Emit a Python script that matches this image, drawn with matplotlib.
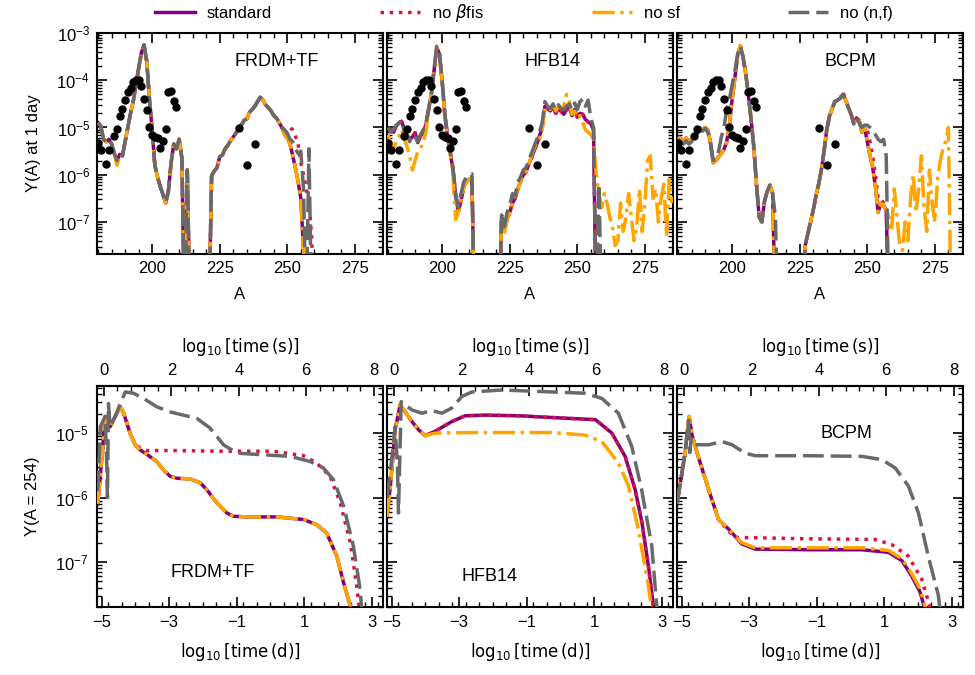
import numpy as np
import matplotlib
matplotlib.use("Agg")
import matplotlib.pyplot as plt
from matplotlib.ticker import MultipleLocator, LogLocator, NullFormatter, FixedLocator

plt.rcParams['font.family'] = ['Liberation Sans', 'DejaVu Sans']
plt.rcParams['font.size'] = 12
plt.rcParams['axes.linewidth'] = 1.5

# ---------------- data: top row, log10 Y(A) at 1 day, A starts at 180 ----------------
frdm_std = [-4.90, -4.97, -5.25, -5.30, -5.25, -5.35, -5.55, -5.70, -5.57, -5.60,
            -5.30, -5.00, -4.70, -4.45, -4.10, -3.75, -3.42, -3.25, -3.60, -4.40,
            -5.05, -5.80, -6.05, -6.25, -6.42, -6.60, -6.35, -5.75, -5.35, -5.45,
            -5.25, -5.65, -9.0, -5.90, -9.0, -9.0, -9.0, -9.0, -9.0, -9.0,
            -9.0, -9.0, -6.02, -5.92, -5.85, -5.62, -5.58, -5.45, -5.38, -5.28,
            -5.20, -5.12, -5.02, -4.95, -4.85, -4.82, -4.68, -4.62, -4.55, -4.45,
            -4.36, -4.42, -4.52, -4.58, -4.65, -4.75, -4.80, -4.90, -5.00, -5.15,
            -5.22, -5.35, -5.60, -5.85, -6.15, -6.50, -7.60, -9.0]
frdm_nbf = [-4.90, -4.97, -5.25, -5.30, -5.25, -5.35, -5.55, -5.70, -5.57, -5.60,
            -5.30, -5.00, -4.70, -4.45, -4.10, -3.75, -3.42, -3.25, -3.60, -4.40,
            -5.05, -5.80, -6.05, -6.25, -6.42, -6.60, -6.35, -5.75, -5.35, -5.45,
            -5.25, -5.65, -9.0, -5.90, -9.0, -9.0, -9.0, -9.0, -9.0, -9.0,
            -9.0, -9.0, -6.02, -5.92, -5.85, -5.62, -5.58, -5.45, -5.38, -5.28,
            -5.20, -5.12, -5.02, -4.95, -4.85, -4.82, -4.68, -4.62, -4.55, -4.45,
            -4.36, -4.42, -4.52, -4.58, -4.65, -4.75, -4.80, -4.90, -5.00, -5.05,
            -5.02, -5.00, -5.05, -5.18, -5.35, -5.75, -6.00, -6.30, -6.60, -7.30,
            -9.0]
frdm_nsf = [-4.90, -4.97, -5.25, -5.30, -5.25, -5.35, -5.55, -5.80, -5.57, -5.60,
            -5.30, -5.00, -4.70, -4.45, -4.10, -3.75, -3.42, -3.25, -3.60, -4.40,
            -5.05, -5.80, -6.05, -6.25, -6.42, -6.60, -6.35, -5.75, -5.35, -5.45,
            -5.25, -5.65, -9.0, -5.90, -9.0, -9.0, -9.0, -9.0, -9.0, -9.0,
            -9.0, -9.0, -6.02, -5.92, -5.85, -5.62, -5.58, -5.45, -5.38, -5.28,
            -5.20, -5.12, -5.02, -4.95, -4.85, -4.82, -4.68, -4.62, -4.55, -4.45,
            -4.36, -4.42, -4.52, -4.58, -4.65, -4.75, -4.80, -4.90, -5.00, -5.15,
            -5.22, -5.35, -5.60, -5.85, -6.15, -6.50, -7.60, -9.0]
frdm_nnf = [-4.90, -4.97, -5.25, -5.30, -5.25, -5.35, -5.55, -5.70, -5.57, -5.60,
            -5.30, -5.00, -4.70, -4.45, -4.10, -3.75, -3.42, -3.25, -3.60, -4.40,
            -5.05, -5.80, -6.05, -6.25, -6.42, -6.60, -6.35, -5.75, -5.35, -5.45,
            -5.25, -5.65, -9.0, -5.90, -9.0, -9.0, -9.0, -9.0, -9.0, -9.0,
            -9.0, -9.0, -6.02, -5.92, -5.85, -5.62, -5.58, -5.45, -5.38, -5.28,
            -5.20, -5.12, -5.02, -4.95, -4.85, -4.82, -4.68, -4.62, -4.55, -4.45,
            -4.36, -4.42, -4.52, -4.58, -4.65, -4.75, -4.80, -4.90, -5.00, -5.05,
            -5.12, -5.25, -5.30, -5.45, -5.55, -5.50, -6.30, -9.0, -5.45, -9.0]

hfb_std = [-5.05, -5.04, -5.10, -4.97, -4.90, -4.87, -5.04, -5.15, -5.25, -5.20,
           -5.11, -5.32, -5.18, -5.10, -4.95, -4.62, -4.30, -3.80, -3.30, -3.45,
           -4.02, -4.75, -5.20, -5.55, -5.88, -6.45, -6.78, -6.55, -6.25, -6.15,
           -6.10, -6.06, -9.0, -9.0, -9.0, -9.0, -9.0, -9.0, -9.0, -9.0,
           -9.0, -9.0, -6.90, -7.20, -6.95, -6.80, -6.60, -6.50, -6.30, -6.15,
           -6.00, -5.95, -5.78, -5.65, -5.50, -5.35, -5.18, -5.00, -4.55, -4.60,
           -4.65, -4.55, -4.70, -4.58, -4.66, -4.72, -4.62, -4.55, -4.75, -4.62,
           -4.78, -4.70, -4.72, -4.83, -4.88, -4.92, -5.05, -9.0]
hfb_nbf = [-5.05, -5.04, -5.10, -4.97, -4.90, -4.87, -5.04, -5.15, -5.25, -5.20,
           -5.11, -5.32, -5.18, -5.10, -4.95, -4.62, -4.30, -3.80, -3.30, -3.45,
           -4.02, -4.75, -5.20, -5.55, -5.88, -6.45, -6.78, -6.55, -6.25, -6.15,
           -6.10, -6.06, -9.0, -9.0, -9.0, -9.0, -9.0, -9.0, -9.0, -9.0,
           -9.0, -9.0, -6.90, -7.20, -6.95, -6.80, -6.60, -6.50, -6.30, -6.15,
           -6.00, -5.95, -5.78, -5.65, -5.50, -5.35, -5.18, -5.00, -4.55, -4.60,
           -4.65, -4.55, -4.70, -4.58, -4.66, -4.72, -4.62, -4.55, -4.75, -4.62,
           -4.78, -4.70, -4.72, -4.83, -4.88, -4.92, -5.05, -9.0]
hfb_nsf = [-5.15, -5.35, -5.45, -5.30, -5.20, -5.05, -5.25, -5.40, -5.60, -5.90,
           -5.70, -5.50, -5.45, -5.30, -5.10, -4.62, -4.30, -3.80, -3.30, -3.45,
           -4.02, -4.75, -5.20, -5.55, -6.00, -6.95, -6.80, -6.55, -6.25, -6.15,
           -6.10, -6.06, -9.0, -9.0, -9.0, -9.0, -9.0, -9.0, -9.0, -9.0,
           -9.0, -9.0, -6.95, -7.25, -6.95, -6.80, -6.60, -6.45, -6.30, -6.15,
           -6.00, -5.95, -5.80, -5.60, -5.45, -5.30, -5.25, -5.05, -4.60, -4.58,
           -4.62, -4.50, -4.65, -4.55, -4.60, -4.55, -4.30, -4.45, -4.72, -4.65,
           -4.80, -4.75, -4.90, -5.05, -5.10, -5.15, -5.25, -6.00, -6.40, -6.70,
           -6.40, -6.60, -6.90, -7.10, -7.50, -7.40, -6.60, -7.20, -6.90, -6.40,
           -6.90, -7.40, -7.10, -6.30, -7.20, -6.60, -5.70, -5.60, -6.50, -6.30,
           -7.00, -6.50, -6.20, -7.30, -6.10, -6.60]
hfb_nnf = [-5.00, -5.10, -5.05, -4.95, -4.92, -4.85, -5.10, -5.15, -5.30, -5.15,
           -5.20, -5.30, -5.15, -5.05, -4.90, -4.60, -4.28, -3.78, -3.28, -3.42,
           -4.00, -4.70, -5.15, -5.50, -5.85, -6.40, -6.70, -6.40, -6.15, -6.05,
           -6.00, -5.98, -9.0, -9.0, -9.0, -9.0, -9.0, -9.0, -9.0, -9.0,
           -9.0, -9.0, -6.85, -7.10, -6.80, -6.65, -6.40, -6.45, -6.15, -6.05,
           -5.90, -5.85, -5.70, -5.55, -5.40, -5.25, -5.10, -4.90, -4.45, -4.55,
           -4.60, -4.50, -4.62, -4.52, -4.60, -4.62, -4.55, -4.50, -4.62, -4.48,
           -4.62, -4.45, -4.40, -4.55, -4.42, -4.80, -5.00, -9.0, -6.20, -9.0]

bcpm_std = [-5.20, -5.25, -5.32, -5.22, -5.30, -5.25, -5.18, -5.11, -5.01, -5.04,
            -5.00, -5.05, -5.32, -5.75, -5.70, -5.62, -5.55, -5.46, -5.30, -4.95,
            -4.40, -3.95, -3.50, -3.27, -3.50, -3.85, -4.30, -4.83, -5.40, -6.20,
            -6.90, -7.00, -6.55, -6.35, -6.22, -6.40, -9.0, -9.0, -9.0, -9.0,
            -9.0, -9.0, -9.0, -9.0, -9.0, -9.0, -9.0, -7.50, -7.25, -7.00,
            -6.75, -6.45, -6.20, -5.90, -5.50, -5.05, -4.76, -4.60, -4.45, -4.42,
            -4.38, -4.30, -4.42, -4.58, -4.72, -4.92, -4.80, -4.85, -5.10, -5.00,
            -5.30, -5.60, -5.85, -6.25, -6.80, -6.60, -6.65, -6.75, -9.0]
bcpm_nbf = [-5.20, -5.25, -5.32, -5.22, -5.30, -5.25, -5.18, -5.11, -5.01, -5.04,
            -5.00, -5.05, -5.32, -5.75, -5.70, -5.62, -5.55, -5.46, -5.30, -4.95,
            -4.40, -3.95, -3.50, -3.27, -3.50, -3.85, -4.30, -4.83, -5.40, -6.20,
            -6.90, -7.00, -6.55, -6.35, -6.22, -6.40, -9.0, -9.0, -9.0, -9.0,
            -9.0, -9.0, -9.0, -9.0, -9.0, -9.0, -9.0, -7.50, -7.25, -7.00,
            -6.75, -6.45, -6.20, -5.90, -5.50, -5.05, -4.76, -4.60, -4.45, -4.42,
            -4.38, -4.24, -4.42, -4.58, -4.72, -4.92, -4.80, -4.85, -5.10, -5.00,
            -5.05, -5.30, -5.60, -6.00, -6.50, -6.50, -6.60, -6.70, -9.0]
bcpm_nsf = [-5.20, -5.25, -5.32, -5.22, -5.30, -5.25, -5.18, -5.11, -5.01, -5.04,
            -5.00, -5.05, -5.32, -5.75, -5.70, -5.62, -5.55, -5.46, -5.30, -4.95,
            -4.40, -3.95, -3.50, -3.27, -3.50, -3.85, -4.30, -4.83, -5.40, -6.20,
            -6.90, -7.00, -6.55, -6.35, -6.22, -6.40, -9.0, -9.0, -9.0, -9.0,
            -9.0, -9.0, -9.0, -9.0, -9.0, -9.0, -9.0, -7.50, -7.25, -7.00,
            -6.75, -6.45, -6.20, -5.90, -5.50, -5.05, -4.76, -4.60, -4.45, -4.42,
            -4.38, -4.30, -4.42, -4.58, -4.72, -4.92, -4.80, -4.85, -5.10, -5.00,
            -5.30, -5.60, -5.85, -6.25, -6.80, -6.60, -6.65, -6.75, -6.90, -7.20,
            -6.30, -6.90, -7.50, -7.60, -7.00, -7.40, -6.50, -6.00, -6.80, -6.30,
            -5.60, -6.70, -7.20, -5.90, -6.60, -7.00, -6.10, -5.70, -5.45, -5.30,
            -5.00, -9.0]
bcpm_nnf = [-5.25, -5.30, -5.35, -5.28, -5.35, -5.30, -5.20, -5.15, -5.05, -5.08,
            -5.02, -5.10, -5.35, -5.70, -5.65, -5.50, -5.20, -5.00, -4.60, -4.40,
            -4.10, -3.80, -3.45, -3.27, -3.50, -3.85, -4.30, -4.83, -5.40, -6.20,
            -6.90, -7.00, -6.55, -6.35, -6.22, -6.40, -6.90, -9.0, -9.0, -9.0,
            -9.0, -9.0, -9.0, -9.0, -9.0, -9.0, -9.0, -7.50, -7.25, -7.00,
            -6.75, -6.45, -6.20, -5.90, -5.50, -5.05, -4.76, -4.60, -4.45, -4.42,
            -4.38, -4.30, -4.42, -4.58, -4.72, -4.92, -4.80, -4.90, -5.00, -4.95,
            -4.95, -5.00, -5.05, -5.15, -5.25, -5.30, -5.25, -5.60, -9.0]

# black dots (same in every top panel)
dots_A = [180, 181, 183, 184, 186, 187, 188, 189, 190, 191,
          192, 193, 194, 195, 196, 197, 198, 199, 200, 201,
          202, 203, 204, 205, 206, 207, 208, 209, 232, 235, 238]
dots_logY = [-5.32, -5.48, -5.78, -5.48, -5.17, -5.04, -4.76, -4.61, -4.41, -4.25,
             -4.16, -4.03, -4.00, -3.99, -4.13, -4.39, -4.64, -4.99, -5.15, -5.20,
             -5.22, -5.43, -5.29, -5.04, -4.25, -4.22, -4.43, -4.57, -5.02, -5.79, -5.36]

# ---------------- data: bottom row, log10 Y(A=254) vs log10 time (d) ----------------
frdm_t_std = [-5.12, -5.09, -4.98, -4.90, -4.82, -4.75, -4.60, -4.45, -4.35, -4.16, -4.01, -3.86,
              -3.66, -3.37, -3.17, -2.97, -2.77, -2.38, -2.08, -1.88, -1.59, -1.29, -1.09,
              -0.70, 0.19, 0.98, 1.37, 1.67, 1.97, 2.17, 2.37, 2.50]
frdm_y_std = [-6.10, -5.93, -5.30, -4.74, -4.85, -4.90, -4.74, -4.59, -4.69, -5.00, -5.18, -5.26,
              -5.33, -5.44, -5.57, -5.67, -5.70, -5.71, -5.77, -5.88, -6.08, -6.24, -6.29,
              -6.30, -6.30, -6.34, -6.42, -6.55, -6.91, -7.32, -7.68, -8.30]
frdm_t_nbf = [-5.12, -5.09, -4.98, -4.90, -4.82, -4.75, -4.60, -4.45, -4.35, -4.16, -4.01, -3.86,
              -3.66, -2.87, -1.39, 0.09, 0.98, 1.37, 1.77, 2.07, 2.37, 2.56, 2.70]
frdm_y_nbf = [-6.10, -5.93, -5.30, -4.74, -4.85, -4.90, -4.74, -4.59, -4.69, -5.00, -5.18, -5.23,
              -5.27, -5.27, -5.28, -5.28, -5.35, -5.46, -5.67, -6.08, -6.70, -7.37, -8.00]
frdm_t_nsf = [-5.12, -5.09, -4.98, -4.90, -4.82, -4.75, -4.60, -4.45, -4.35, -4.16, -4.01, -3.86,
              -3.66, -3.37, -3.17, -2.97, -2.77, -2.38, -2.08, -1.88, -1.59, -1.29, -1.09,
              -0.70, 0.19, 0.98, 1.37, 1.67, 1.97, 2.17, 2.37, 2.50]
frdm_y_nsf = [-6.10, -5.93, -5.30, -4.74, -4.85, -4.90, -4.74, -4.59, -4.69, -5.00, -5.18, -5.26,
              -5.33, -5.44, -5.57, -5.67, -5.70, -5.71, -5.77, -5.88, -6.08, -6.24, -6.29,
              -6.30, -6.30, -6.34, -6.42, -6.55, -6.91, -7.32, -7.68, -8.30]
frdm_t_nnf = [-5.12, -5.04, -4.90, -4.85, -4.83, -4.80, -4.75, -4.60, -4.45, -4.30, -4.06, -3.76,
              -3.37, -2.97, -2.58, -2.18, -1.79, -1.39, -0.99, -0.40, 0.59, 1.18, 1.57,
              1.87, 2.17, 2.46, 2.66, 2.75]
frdm_y_nnf = [-5.90, -4.90, -4.74, -5.50, -6.00, -4.54, -4.90, -4.74, -4.54, -4.36, -4.38, -4.46,
              -4.59, -4.67, -4.72, -4.77, -4.92, -5.18, -5.31, -5.33, -5.36, -5.44, -5.54,
              -5.72, -6.13, -6.75, -7.42, -8.00]

hfb_t_std = [-5.14, -5.04, -4.90, -4.75, -4.60, -4.40, -4.20, -4.01, -3.71, -3.22, -2.82, -2.23,
             -1.24, 0.24, 1.04, 1.53, 1.92, 2.22, 2.42, 2.61, 2.76, 2.85]
hfb_y_std = [-6.30, -5.82, -4.95, -4.56, -4.67, -4.82, -4.95, -5.04, -4.97, -4.82, -4.73, -4.72,
             -4.73, -4.77, -4.79, -5.00, -5.36, -5.88, -6.39, -7.06, -7.70, -8.20]
hfb_t_nbf = [-5.14, -5.04, -4.90, -4.75, -4.60, -4.40, -4.20, -4.01, -3.71, -3.22, -2.82, -2.23,
             -1.24, 0.24, 1.04, 1.53, 1.92, 2.22, 2.42, 2.61, 2.76, 2.85]
hfb_y_nbf = [-6.30, -5.82, -4.95, -4.56, -4.67, -4.82, -4.95, -5.04, -4.97, -4.82, -4.73, -4.72,
             -4.73, -4.77, -4.79, -5.00, -5.36, -5.88, -6.39, -7.06, -7.70, -8.20]
hfb_t_nsf = [-5.14, -5.04, -4.90, -4.75, -4.60, -4.40, -4.20, -4.01, -3.71, -2.72, -0.25, 0.73,
             1.23, 1.72, 2.02, 2.31, 2.61, 2.71, 2.80]
hfb_y_nsf = [-6.30, -5.82, -4.95, -4.56, -4.67, -4.82, -4.95, -5.04, -5.00, -4.99, -4.99, -5.03,
             -5.13, -5.46, -5.82, -6.49, -7.37, -7.75, -8.20]
hfb_t_nnf = [-5.14, -5.04, -4.90, -4.83, -4.80, -4.72, -4.40, -4.11, -3.81, -3.51, -3.22, -2.92,
             -2.62, -1.73, -0.25, 0.73, 1.23, 1.72, 2.12, 2.41, 2.71, 2.86, 2.95]
hfb_y_nnf = [-6.00, -5.60, -4.90, -5.50, -6.24, -4.51, -4.64, -4.69, -4.65, -4.69, -4.61, -4.43,
             -4.36, -4.33, -4.36, -4.38, -4.46, -4.69, -5.21, -5.88, -6.75, -7.70, -8.30]

bcpm_t_std = [-5.14, -5.04, -4.90, -4.78, -4.70, -4.50, -4.20, -3.91, -3.61, -3.42, -3.22, -2.82,
              -1.24, 0.34, 1.13, 1.53, 1.82, 2.07, 2.22, 2.30]
bcpm_y_std = [-6.10, -5.77, -5.31, -4.74, -5.02, -5.38, -5.88, -6.34, -6.49, -6.60, -6.72, -6.80,
              -6.81, -6.81, -6.85, -6.98, -7.22, -7.47, -7.75, -8.20]
bcpm_t_nbf = [-5.14, -5.04, -4.90, -4.78, -4.70, -4.50, -4.20, -3.91, -3.61, -3.42, -3.22, -1.24,
              0.73, 1.23, 1.72, 2.12, 2.36, 2.45]
bcpm_y_nbf = [-6.10, -5.77, -5.31, -4.74, -5.02, -5.38, -5.88, -6.34, -6.52, -6.62, -6.62, -6.64,
              -6.65, -6.73, -6.91, -7.27, -7.70, -8.20]
bcpm_t_nsf = [-5.14, -5.04, -4.90, -4.78, -4.70, -4.50, -4.20, -3.91, -3.61, -3.42, -3.22, -2.82,
              -1.24, 0.34, 1.13, 1.53, 1.82, 2.07, 2.25, 2.32]
bcpm_y_nsf = [-6.10, -5.77, -5.31, -4.74, -5.02, -5.38, -5.88, -6.34, -6.49, -6.60, -6.70, -6.78,
              -6.78, -6.78, -6.82, -6.95, -7.18, -7.42, -7.75, -8.20]
bcpm_t_nnf = [-5.14, -5.04, -4.90, -4.80, -4.76, -4.72, -4.60, -4.20, -3.81, -3.51, -3.12, -2.82,
              -1.24, 0.34, 0.93, 1.33, 1.72, 2.02, 2.31, 2.61, 2.76]
bcpm_y_nnf = [-6.10, -5.77, -5.31, -4.80, -5.30, -5.08, -5.18, -5.18, -5.13, -5.18, -5.31, -5.35,
              -5.35, -5.36, -5.41, -5.54, -5.82, -6.24, -6.91, -7.52, -8.20]

models = ['FRDM+TF', 'HFB14', 'BCPM']
series_labels = ['standard', r'no $\beta$fis', 'no sf', 'no (n,f)']

top_data = [
    [frdm_std, frdm_nbf, frdm_nsf, frdm_nnf],
    [hfb_std, hfb_nbf, hfb_nsf, hfb_nnf],
    [bcpm_std, bcpm_nbf, bcpm_nsf, bcpm_nnf],
]
bot_data = [
    [(frdm_t_std, frdm_y_std), (frdm_t_nbf, frdm_y_nbf), (frdm_t_nsf, frdm_y_nsf), (frdm_t_nnf, frdm_y_nnf)],
    [(hfb_t_std, hfb_y_std), (hfb_t_nbf, hfb_y_nbf), (hfb_t_nsf, hfb_y_nsf), (hfb_t_nnf, hfb_y_nnf)],
    [(bcpm_t_std, bcpm_y_std), (bcpm_t_nbf, bcpm_y_nbf), (bcpm_t_nsf, bcpm_y_nsf), (bcpm_t_nnf, bcpm_y_nnf)],
]

# ---------------- styles ----------------
styles = [
    dict(color='#800080', ls='-', lw=2.5),
    dict(color='#dc143c', ls=':', lw=2.5),
    dict(color='#ffa500', ls='-.', lw=2.5),
    dict(color='#696969', ls=(0, (6.0, 2.0)), lw=2.5),
]

W, H = 975.0, 675.0
fig = plt.figure(figsize=(9.75, 6.75), dpi=100)
xs = [97, 387, 677]
aw, ah = 286, 221
top_axes = [fig.add_axes([x / W, 1 - 254 / H, aw / W, ah / H]) for x in xs]
bot_axes = [fig.add_axes([x / W, 1 - 607 / H, aw / W, ah / H]) for x in xs]

top_text_pos = [(0.628, 0.87), (0.58, 0.87), (0.605, 0.87)]
bot_text_pos = [(0.406, 0.154), (0.36, 0.136), (0.594, 0.787)]


def style_log_y(ax):
    ax.set_yscale('log')
    ax.yaxis.set_major_locator(LogLocator(base=10, numticks=20))
    ax.yaxis.set_minor_locator(LogLocator(base=10, subs=np.arange(2, 10), numticks=100))
    ax.yaxis.set_minor_formatter(NullFormatter())


handles = []
for i, ax in enumerate(top_axes):
    for k, vals in enumerate(top_data[i]):
        v = np.array(vals)
        A = np.arange(180, 180 + len(v))
        ln, = ax.plot(A, 10.0 ** v, zorder=2 + k, **styles[k])
        if i == 0:
            handles.append(ln)
    ax.plot(dots_A, 10.0 ** np.array(dots_logY), 'o', color='k', ms=5, zorder=10)
    style_log_y(ax)
    ax.set_xlim(179.6, 285.4)
    ax.set_ylim(2.1e-8, 1e-3)
    ax.xaxis.set_major_locator(MultipleLocator(25))
    ax.xaxis.set_minor_locator(MultipleLocator(5))
    ax.tick_params(which='both', direction='in', top=True, right=True)
    ax.tick_params(which='major', length=7, width=1.2, labelsize=12, pad=5)
    ax.tick_params(which='minor', length=3.5, width=1.0)
    ax.set_xlabel('A', fontsize=12, labelpad=8)
    if i == 0:
        ax.set_ylabel('Y(A) at 1 day', fontsize=12, labelpad=11)
    else:
        ax.tick_params(labelleft=False)
    tx, ty = top_text_pos[i]
    ax.text(tx, ty, models[i], transform=ax.transAxes, ha='center', va='center', fontsize=13)

off = np.log10(86400.0)
for i, ax in enumerate(bot_axes):
    for k, (t, y) in enumerate(bot_data[i]):
        ax.plot(np.array(t), 10.0 ** np.array(y), zorder=2 + k, **styles[k])
    style_log_y(ax)
    ax.set_xlim(-5.14, 3.34)
    ax.set_ylim(2.0e-8, 5.4e-5)
    ax.xaxis.set_major_locator(FixedLocator([-5, -3, -1, 1, 3]))
    ax.xaxis.set_minor_locator(MultipleLocator(0.4))
    ax.tick_params(which='both', direction='in', top=False, right=True)
    ax.tick_params(which='major', length=7, width=1.2, labelsize=12, pad=6)
    ax.tick_params(which='minor', length=3.5, width=1.0)
    ax.set_xlabel(r'$\log_{10}$[time$\,$(d)]', fontsize=12, fontfamily='DejaVu Sans',
                  math_fontfamily='dejavusans', labelpad=8)
    sec = ax.secondary_xaxis('top', functions=(lambda d: d + off, lambda s: s - off))
    sec.xaxis.set_major_locator(FixedLocator([0, 2, 4, 6, 8]))
    sec.xaxis.set_minor_locator(MultipleLocator(0.4))
    sec.tick_params(which='both', direction='in')
    sec.tick_params(which='major', length=7, width=1.2, labelsize=12, pad=6)
    sec.tick_params(which='minor', length=3.5, width=1.0)
    sec.set_xlabel(r'$\log_{10}$[time$\,$(s)]', fontsize=12, fontfamily='DejaVu Sans',
                   math_fontfamily='dejavusans', labelpad=8)
    if i == 0:
        ax.set_ylabel('Y(A = 254)', fontsize=12, labelpad=11)
    else:
        ax.tick_params(labelleft=False)
    tx, ty = bot_text_pos[i]
    ax.text(tx, ty, models[i], transform=ax.transAxes, ha='center', va='center', fontsize=13)

fig.legend(handles, series_labels, loc='center left', bbox_to_anchor=(155 / W, 1 - 13 / H),
           ncol=4, frameon=False, handlelength=2.4, handletextpad=0.7, columnspacing=6.5,
           borderpad=0, borderaxespad=0, fontsize=12)

fig.savefig('out.png', dpi=100)
